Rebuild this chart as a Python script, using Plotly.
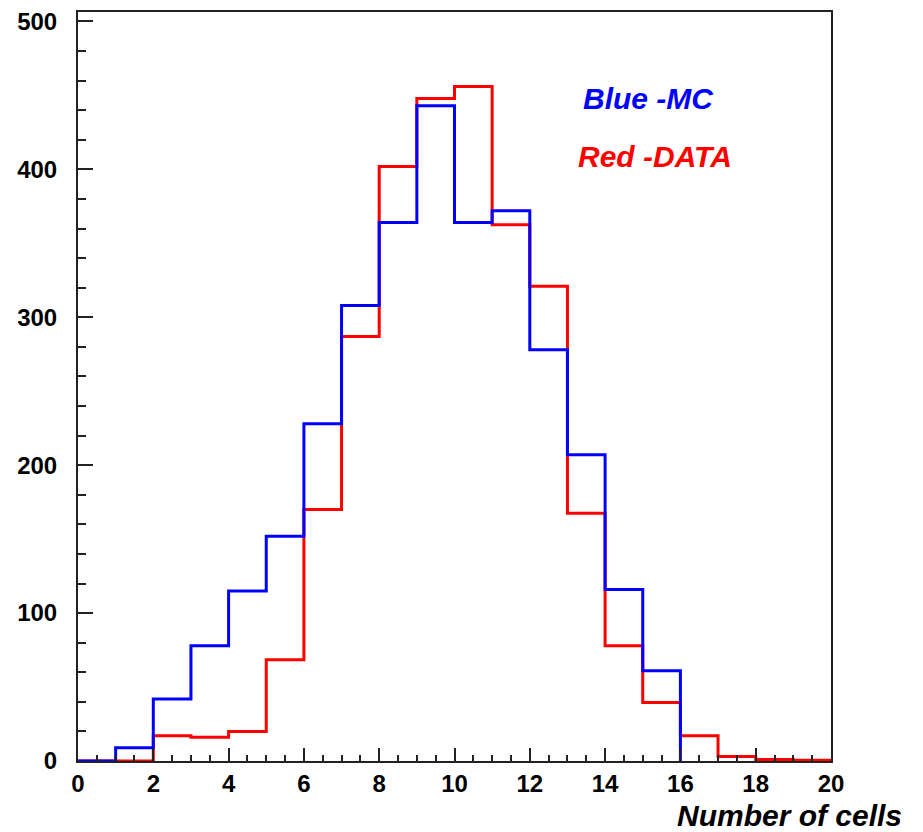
import plotly.graph_objects as go

# Histogram data (bin edges 0..20, unit width)
bin_edges = list(range(0, 21))
mc_counts = [0, 9, 42, 78, 115, 152, 228, 308, 364, 443, 364, 372, 278, 207, 116, 61]
data_counts = [0, 0, 17, 16, 20, 68.5, 170, 287, 402, 448, 456, 362.5, 321, 167.5, 78, 39.5, 17, 3, 1, 0.5]

x_ticks = [0, 2, 4, 6, 8, 10, 12, 14, 16, 18, 20]
y_ticks = [0, 100, 200, 300, 400, 500]

FONT = "Liberation Sans, Arial, Helvetica, sans-serif"

fig = go.Figure()

# DATA (red) : step outline over full range
xr = bin_edges[: len(data_counts) + 1]
yr = data_counts + [data_counts[-1]]
fig.add_trace(go.Scatter(x=xr, y=yr, mode="lines", line=dict(color="#ff0000", width=3, shape="hv"),
                         showlegend=False, hoverinfo="skip"))

# MC (blue) : step outline ending at 16 with drop to zero
xb = bin_edges[: len(mc_counts) + 1]
yb = mc_counts + [0]
fig.add_trace(go.Scatter(x=xb, y=yb, mode="lines", line=dict(color="#0000ff", width=3, shape="hv"),
                         showlegend=False, hoverinfo="skip"))

fig.update_layout(
    width=923, height=832,
    margin=dict(l=78, r=92, t=8, b=71),
    paper_bgcolor="white", plot_bgcolor="white",
    font=dict(family=FONT, color="black"),
    xaxis=dict(range=[0, 20], tickmode="array", tickvals=x_ticks, ticktext=[str(v) for v in x_ticks],
               ticks="inside", ticklen=13, tickwidth=2, tickcolor="#222",
               showline=True, linecolor="#222", linewidth=2, mirror=True,
               showgrid=False, zeroline=False,
               tickfont=dict(family=FONT, size=24, color="black", weight="bold"),
               minor=dict(dtick=0.5, ticks="inside", ticklen=6, tickwidth=2, tickcolor="#222", showgrid=False)),
    yaxis=dict(range=[0, 506.4], tickmode="array", tickvals=y_ticks, ticktext=[str(v) for v in y_ticks],
               ticks="inside", ticklen=15, tickwidth=2, tickcolor="#222",
               showline=True, linecolor="#222", linewidth=2, mirror=True,
               showgrid=False, zeroline=False, ticklabelstandoff=14,
               tickfont=dict(family=FONT, size=24, color="black", weight="bold"),
               minor=dict(dtick=20, ticks="inside", ticklen=8, tickwidth=2, tickcolor="#222", showgrid=False)),
    annotations=[
        dict(text="<b><i>Number of cells</i></b>", xref="paper", yref="paper", x=(904 - 78) / 753, y=-(816 - 761) / 753,
             xanchor="right", yanchor="middle", showarrow=False, font=dict(family=FONT, size=30, color="black")),
        dict(text="<b><i>Blue -MC</i></b>", xref="paper", yref="paper", x=(581 - 78) / 753, y=(761 - 95) / 753,
             xanchor="left", yanchor="middle", showarrow=False, font=dict(family=FONT, size=30, color="#0000ff")),
        dict(text="<b><i>Red -DATA</i></b>", xref="paper", yref="paper", x=(576 - 78) / 753, y=(761 - 153) / 753,
             xanchor="left", yanchor="middle", showarrow=False, font=dict(family=FONT, size=30, color="#ff0000")),
    ],
)

fig.write_html("out.html")
